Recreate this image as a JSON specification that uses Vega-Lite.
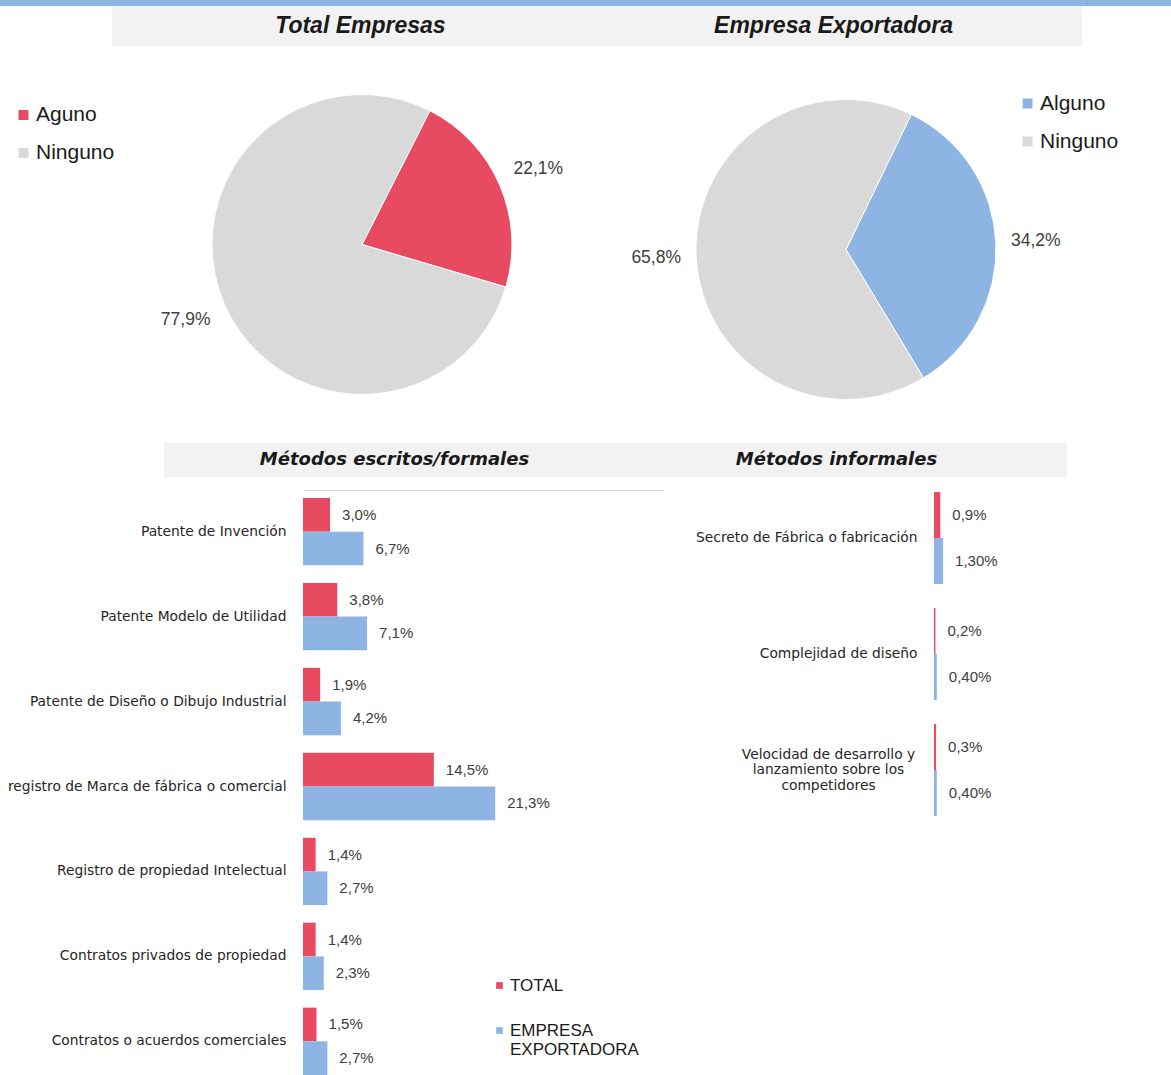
{
  "$schema": "https://vega.github.io/schema/vega-lite/v6.json",
  "padding": 0,
  "background": "white",
  "config": {"view": {"stroke": null}, "font": "Liberation Sans", "axis": {"grid": false}},
  "spacing": 0,
  "resolve": {"scale": {"color": "independent", "theta": "independent", "yOffset": "independent"}},
  "vconcat": [
    {
      "width": 1171, "height": 6,
      "view": {"fill": "#8db4e2", "stroke": null},
      "data": {"values": [{}]},
      "mark": {"type": "text", "fontSize": 0},
      "encoding": {"text": {"value": ""}}
    },
    {
      "spacing": 0,
      "hconcat": [
        {"width": 112, "height": 40, "data": {"values": [{}]}, "mark": {"type": "text", "fontSize": 0}, "encoding": {"text": {"value": ""}}},
        {
          "width": 970, "height": 40,
          "view": {"fill": "#f2f2f2", "stroke": null},
          "data": {"values": [{"t": "Total Empresas"}, {"t": "Empresa Exportadora"}]},
          "mark": {"type": "text", "font": "Liberation Sans", "fontSize": 23, "fontWeight": "bold", "fontStyle": "italic", "fill": "#1a1a1a", "baseline": "middle"},
          "encoding": {
            "x": {"field": "t", "type": "nominal", "sort": null, "scale": {"type": "point", "padding": 0.525}, "axis": null},
            "text": {"field": "t"}
          }
        }
      ]
    },
    {
      "spacing": 0,
      "resolve": {"scale": {"color": "independent", "theta": "independent"}},
      "hconcat": [
        {"width": 13, "height": 1, "data": {"values": [{}]}, "mark": {"type": "text", "fontSize": 0}, "encoding": {"text": {"value": ""}}},
        {
          "width": 482, "height": 397,
          "data": {"values": [{"k": "Aguno", "v": 22.1, "lab": "22,1%"}, {"k": "Ninguno", "v": 77.9, "lab": "77,9%"}]},
          "encoding": {
            "theta": {"field": "v", "type": "quantitative", "stack": true, "scale": {"range": [0.47, 6.7532]}},
            "order": {"field": "k", "sort": "ascending"}
          },
          "layer": [
            {
              "mark": {"type": "arc", "outerRadius": 150, "stroke": "white", "strokeWidth": 1},
              "encoding": {
                "color": {"field": "k", "type": "nominal", "scale": {"domain": ["Aguno", "Ninguno"], "range": ["#e84a62", "#d9d9d9"]},
                  "legend": {"orient": "none", "legendX": -108, "legendY": 58.5, "title": null, "symbolType": "square", "symbolSize": 100, "symbolStrokeWidth": 0, "labelFontSize": 21, "labelColor": "#1a1a1a", "rowPadding": 16, "labelOffset": 2, "padding": 0}}
              }
            },
            {
              "mark": {"type": "text", "radius": 192, "fontSize": 17.5, "fill": "#404040"},
              "encoding": {"text": {"field": "lab"}}
            }
          ]
        },
        {
          "spacing": 0,
          "vconcat": [
            {"width": 486, "height": 10, "data": {"values": [{}]}, "mark": {"type": "text", "fontSize": 0}, "encoding": {"text": {"value": ""}}},
            {
              "width": 486, "height": 387,
              "data": {"values": [{"k": "Alguno", "v": 34.2, "lab": "34,2%"}, {"k": "Ninguno", "v": 65.8, "lab": "65,8%"}]},
              "encoding": {
                "theta": {"field": "v", "type": "quantitative", "stack": true, "scale": {"range": [0.45, 6.7332]}},
                "order": {"field": "k", "sort": "ascending"}
              },
              "layer": [
                {
                  "mark": {"type": "arc", "outerRadius": 150, "stroke": "white", "strokeWidth": 1},
                  "encoding": {
                    "color": {"field": "k", "type": "nominal", "scale": {"domain": ["Alguno", "Ninguno"], "range": ["#8db4e2", "#d9d9d9"]},
                      "legend": {"orient": "none", "legendX": 414, "legendY": 47, "title": null, "symbolType": "square", "symbolSize": 100, "symbolStrokeWidth": 0, "labelFontSize": 21, "labelColor": "#1a1a1a", "rowPadding": 16, "labelOffset": 2, "padding": 0}}
                  }
                },
                {
                  "mark": {"type": "text", "radius": 190, "fontSize": 17.5, "fill": "#404040"},
                  "encoding": {"text": {"field": "lab"}}
                }
              ]
            }
          ]
        }
      ]
    },
    {
      "spacing": 0,
      "hconcat": [
        {"width": 164, "height": 34, "data": {"values": [{}]}, "mark": {"type": "text", "fontSize": 0}, "encoding": {"text": {"value": ""}}},
        {
          "width": 903, "height": 34,
          "view": {"fill": "#f2f2f2", "stroke": null},
          "data": {"values": [{"t": "Métodos escritos/formales"}, {"t": "Métodos informales"}]},
          "mark": {"type": "text", "font": "DejaVu Sans", "fontSize": 18, "fontWeight": "bold", "fontStyle": "italic", "fill": "#1a1a1a", "baseline": "middle"},
          "encoding": {
            "x": {"field": "t", "type": "nominal", "sort": null, "scale": {"type": "point", "padding": 0.5215}, "axis": null},
            "text": {"field": "t"}
          }
        }
      ]
    },
    {
      "spacing": 0,
      "resolve": {"scale": {"color": "independent", "yOffset": "independent"}},
      "hconcat": [
        {"width": 7, "height": 1, "data": {"values": [{}]}, "mark": {"type": "text", "fontSize": 0}, "encoding": {"text": {"value": ""}}},
        {
          "spacing": 0,
          "vconcat": [
            {"width": 10, "height": 13, "data": {"values": [{}]}, "mark": {"type": "text", "fontSize": 0}, "encoding": {"text": {"value": ""}}},
            {
              "width": 361, "height": 577,
              "data": {"values": [
                {"c": "Patente de Invención", "s": "TOTAL", "v": 3.0, "lab": "3,0%"},
                {"c": "Patente de Invención", "s": "EMPRESA EXPORTADORA", "v": 6.7, "lab": "6,7%"},
                {"c": "Patente Modelo de Utilidad", "s": "TOTAL", "v": 3.8, "lab": "3,8%"},
                {"c": "Patente Modelo de Utilidad", "s": "EMPRESA EXPORTADORA", "v": 7.1, "lab": "7,1%"},
                {"c": "Patente de Diseño o Dibujo Industrial", "s": "TOTAL", "v": 1.9, "lab": "1,9%"},
                {"c": "Patente de Diseño o Dibujo Industrial", "s": "EMPRESA EXPORTADORA", "v": 4.2, "lab": "4,2%"},
                {"c": "registro de Marca de fábrica o comercial", "s": "TOTAL", "v": 14.5, "lab": "14,5%"},
                {"c": "registro de Marca de fábrica o comercial", "s": "EMPRESA EXPORTADORA", "v": 21.3, "lab": "21,3%"},
                {"c": "Registro de propiedad Intelectual", "s": "TOTAL", "v": 1.4, "lab": "1,4%"},
                {"c": "Registro de propiedad Intelectual", "s": "EMPRESA EXPORTADORA", "v": 2.7, "lab": "2,7%"},
                {"c": "Contratos privados de propiedad", "s": "TOTAL", "v": 1.4, "lab": "1,4%"},
                {"c": "Contratos privados de propiedad", "s": "EMPRESA EXPORTADORA", "v": 2.3, "lab": "2,3%"},
                {"c": "Contratos o acuerdos comerciales", "s": "TOTAL", "v": 1.5, "lab": "1,5%"},
                {"c": "Contratos o acuerdos comerciales", "s": "EMPRESA EXPORTADORA", "v": 2.7, "lab": "2,7%"}
              ]},
              "encoding": {
                "y": {"field": "c", "type": "nominal", "sort": null, "scale": {"paddingInner": 0.207, "paddingOuter": 0},
                  "axis": {"title": null, "domain": false, "ticks": false, "labelPadding": 17, "labelFont": "DejaVu Sans", "labelFontSize": 13.8, "labelColor": "#262626", "labelLimit": 400}},
                "yOffset": {"field": "s", "type": "nominal", "sort": ["TOTAL", "EMPRESA EXPORTADORA"]},
                "x": {"field": "v", "type": "quantitative", "scale": {"domain": [0, 40]},
                  "axis": {"orient": "top", "domain": true, "domainColor": "#d4d4d4", "domainWidth": 1, "ticks": false, "labels": false, "title": null, "offset": 8, "grid": false}}
              },
              "layer": [
                {
                  "mark": {"type": "bar"},
                  "encoding": {
                    "color": {"field": "s", "type": "nominal", "sort": ["TOTAL", "EMPRESA EXPORTADORA"],
                      "scale": {"domain": ["TOTAL", "EMPRESA EXPORTADORA"], "range": ["#e84a62", "#8db4e2"]},
                      "legend": {"orient": "none", "legendX": 188, "legendY": 500, "title": null, "symbolType": "square", "symbolSize": 45, "symbolStrokeWidth": 0, "labelFontSize": 17, "labelColor": "#1a1a1a", "rowPadding": 27, "labelOffset": 2, "padding": 0, "labelLimit": 300,
                        "labelExpr": "datum.label == 'EMPRESA EXPORTADORA' ? ['EMPRESA', 'EXPORTADORA'] : datum.label"}
                    }
                  }
                },
                {
                  "mark": {"type": "text", "align": "left", "baseline": "middle", "dx": 12, "fontSize": 15, "fill": "#404040"},
                  "encoding": {"text": {"field": "lab"}}
                }
              ]
            }
          ]
        },
        {"width": 31, "height": 1, "data": {"values": [{}]}, "mark": {"type": "text", "fontSize": 0}, "encoding": {"text": {"value": ""}}},
        {
          "spacing": 0,
          "vconcat": [
            {"width": 10, "height": 15, "data": {"values": [{}]}, "mark": {"type": "text", "fontSize": 0}, "encoding": {"text": {"value": ""}}},
            {
              "width": 231, "height": 324,
              "data": {"values": [
                {"c": "Secreto de Fábrica o fabricación", "s": "TOTAL", "v": 0.9, "lab": "0,9%"},
                {"c": "Secreto de Fábrica o fabricación", "s": "EMPRESA EXPORTADORA", "v": 1.3, "lab": "1,30%"},
                {"c": "Complejidad de diseño", "s": "TOTAL", "v": 0.2, "lab": "0,2%"},
                {"c": "Complejidad de diseño", "s": "EMPRESA EXPORTADORA", "v": 0.4, "lab": "0,40%"},
                {"c": "Velocidad de desarrollo y lanzamiento sobre los competidores", "s": "TOTAL", "v": 0.3, "lab": "0,3%"},
                {"c": "Velocidad de desarrollo y lanzamiento sobre los competidores", "s": "EMPRESA EXPORTADORA", "v": 0.4, "lab": "0,40%"}
              ]},
              "encoding": {
                "y": {"field": "c", "type": "nominal", "sort": null, "scale": {"paddingInner": 0.207, "paddingOuter": 0},
                  "axis": {"title": null, "domain": false, "ticks": false, "labelFont": "DejaVu Sans", "labelFontSize": 13.8, "labelColor": "#262626", "labelLimit": 400, "labelLineHeight": 15.5,
                    "labelPadding": {"condition": {"test": "indexof(datum.value, 'Velocidad') >= 0", "value": 106}, "value": 17},
                    "labelAlign": {"condition": {"test": "indexof(datum.value, 'Velocidad') >= 0", "value": "center"}, "value": "right"},
                    "labelOffset": {"condition": {"test": "indexof(datum.value, 'Velocidad') >= 0", "value": -15.5}, "value": 0},
                    "labelExpr": "datum.value == 'Velocidad de desarrollo y lanzamiento sobre los competidores' ? ['Velocidad de desarrollo y', 'lanzamiento sobre los', 'competidores'] : datum.value"}},
                "yOffset": {"field": "s", "type": "nominal", "sort": ["TOTAL", "EMPRESA EXPORTADORA"]},
                "x": {"field": "v", "type": "quantitative", "scale": {"domain": [0, 33]}, "axis": null}
              },
              "layer": [
                {
                  "mark": {"type": "bar"},
                  "encoding": {
                    "color": {"field": "s", "type": "nominal", "scale": {"domain": ["TOTAL", "EMPRESA EXPORTADORA"], "range": ["#e84a62", "#8db4e2"]}, "legend": null}
                  }
                },
                {
                  "mark": {"type": "text", "align": "left", "baseline": "middle", "dx": 12, "fontSize": 15, "fill": "#404040"},
                  "encoding": {"text": {"field": "lab"}}
                }
              ]
            }
          ]
        }
      ]
    }
  ]
}
